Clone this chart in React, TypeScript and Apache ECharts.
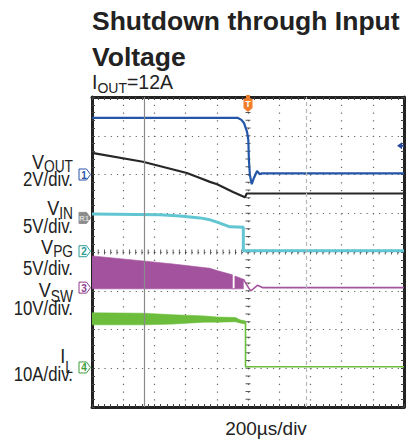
import React, { useEffect, useRef } from "react";
import * as echarts from "echarts";

// ---- data (x in time divisions 0..10, y in vertical divisions 0..8) ----
const VOUT_T = [0, 4.68, 4.79, 4.87, 4.97, 5.01, 5.03, 5.06, 5.12, 5.19, 5.29, 5.37, 5.45, 10];
const VOUT_V = [7.46, 7.46, 7.41, 7.33, 7.1, 6.89, 6.37, 5.99, 5.75, 5.91, 6.09, 6.01, 6.03, 6.03];

const BLK_T = [0, 1.63, 3.04, 3.46, 3.78, 4.01, 4.52, 4.9, 4.96, 10];
const BLK_V = [6.56, 6.33, 6.04, 5.91, 5.81, 5.75, 5.55, 5.41, 5.51, 5.51];

const VIN_T = [0, 2.18, 2.82, 3.46, 3.78, 4.01, 4.42, 4.85, 4.85, 10];
const VIN_V = [4.98, 4.96, 4.93, 4.88, 4.83, 4.77, 4.65, 4.64, 4.03, 4.03];

const SW_BASE = 3.05;
const SW_T = [0, 1.63, 2.6, 3.78, 4.01, 4.5, 4.5, 4.58, 4.58, 4.85];
const SW_TOP = [3.9, 3.77, 3.69, 3.58, 3.52, 3.41, 3.05, 3.05, 3.38, 3.3];
const SW_TAIL_T = [4.85, 5.03, 5.1, 5.3, 5.48, 10];
const SW_TAIL_V = [3.3, 3.06, 3.0, 3.14, 3.08, 3.08];

const IL_T = [0, 1.63, 2.6, 3.6, 4.01, 4.6, 4.74, 4.92];
const IL_LO = [2.12, 2.12, 2.14, 2.19, 2.19, 2.2, 2.17, 2.14];
const IL_HI = [2.43, 2.42, 2.38, 2.35, 2.32, 2.31, 2.25, 2.22];
const IL_TAIL_T = [4.92, 4.92, 10];
const IL_TAIL_V = [2.18, 1.04, 1.04];

const CURSOR_A = 1.67;
const CURSOR_B = 6.86;
const TRIG_X = 5;
const TRIG_LEVEL = 6.74;

const CHANNELS = [
  { label: "1", level: 6.0, color: "#2a55a5", filled: false },
  { label: "R1", level: 4.88, color: "#8c8c8c", filled: true },
  { label: "2", level: 4.02, color: "#2c9c96", filled: false },
  { label: "3", level: 3.08, color: "#8d3b8c", filled: false },
  { label: "4", level: 1.02, color: "#3d9e3a", filled: false },
];

const SUB_LABELS = [
  { main: "V", sub: "OUT", base: 168.3, d: 3 },
  { main: "V", sub: "IN", base: 214.5, d: 4 },
  { main: "V", sub: "PG", base: 253.3, d: 3 },
  { main: "V", sub: "SW", base: 296.7, d: 4.5 },
  { main: "I", sub: "L", base: 362.5, d: 10 },
];
const SCALE_LABELS = [
  { text: "2V/div.", base: 186.7 },
  { text: "5V/div.", base: 233.3 },
  { text: "5V/div.", base: 275 },
  { text: "10V/div.", base: 315 },
  { text: "10A/div.", base: 381.7 },
];

const BLUE = "#2456a8";
const BLACK = "#262626";
const CYAN = "#62c6d2";
const MAG = "#a3529e";
const GREEN = "#6cbd3c";

const FONT = "'Liberation Sans', Arial, Helvetica, sans-serif";
const LABEL_SX = 0.86;

const GRID = { left: 92, top: 97, width: 312, height: 310 };
const XDIV = 10;
const YDIV = 8;
const px = (x: number) => GRID.left + (x * GRID.width) / XDIV;
const py = (y: number) => GRID.top + ((YDIV - y) * GRID.height) / YDIV;

const K = 0.3465;

let measureCtx: CanvasRenderingContext2D | null = null;
function measure(text: string, size: number, weight = "normal") {
  if (!measureCtx) measureCtx = document.createElement("canvas").getContext("2d");
  if (!measureCtx) return text.length * size * 0.55;
  measureCtx.font = `${weight} ${size}px ${FONT}`;
  return measureCtx.measureText(text).width;
}

function textEl(text: string, x: number, base: number, size: number, align: string, sx = 1, weight = "normal") {
  return {
    type: "text",
    x,
    y: base - K * size,
    scaleX: sx,
    silent: true,
    style: { text, fontFamily: FONT, fontSize: size, fontWeight: weight, fill: "#222", align, verticalAlign: "middle" },
  };
}

function pairs(t: number[], v: number[]) {
  return t.map((x, i) => [x, v[i]]);
}

function bandSeries(t: number[], top: number[], bottom: number[], color: string) {
  const topPts = pairs(t, top);
  const botPts = pairs(t, bottom).reverse();
  return {
    type: "custom",
    data: topPts,
    encode: { x: 0, y: 1 },
    silent: true,
    clip: true,
    z: 2,
    renderItem: (params: any, api: any) => {
      if (params.dataIndex !== 0) return null;
      const pts = topPts.concat(botPts).map((p) => api.coord(p));
      return { type: "polygon", shape: { points: pts }, style: { fill: color, stroke: color, lineWidth: 0.6 } };
    },
  };
}

export default function App() {
  const ref = useRef<HTMLDivElement>(null);
  useEffect(() => {
    if (!ref.current) return;
    const chart = echarts.init(ref.current, undefined, { renderer: "svg" });

    const vTicks: number[][] = [];
    for (let k = 1; k < YDIV * 5; k++) vTicks.push([TRIG_X, k / 5]);
    const hTicks: number[][] = [];
    for (let k = 1; k < XDIV * 5; k++) hTicks.push([k / 5, YDIV / 2]);

    const frameAxis = {
      type: "value",
      min: 0,
      interval: 1,
      axisLine: { show: true, onZero: false, lineStyle: { color: "#222", width: 3 } },
      axisTick: { show: true, inside: true, length: 3, lineStyle: { color: "#444", width: 1 } },
      minorTick: { show: true, splitNumber: 5, length: 3, lineStyle: { color: "#444", width: 1 } },
      axisLabel: { show: false },
    };

    const graphic: any[] = [];
    graphic.push(textEl("Shutdown through Input", 92, 30.2, 26.5, "left", 1, "bold"));
    graphic.push(textEl("Voltage", 92, 66, 26.5, "left", 1, "bold"));
    // I_OUT=12A
    {
      const F = 19.5, f = 14, B = 88.3, d = 4.4;
      const wI = measure("I", F);
      const wO = measure("OUT", f);
      graphic.push(textEl("I", 92, B, F, "left"));
      graphic.push(textEl("OUT", 92 + wI, B + d, f, "left"));
      graphic.push(textEl("=12A", 92 + wI + wO, B, F, "left"));
    }
    graphic.push(textEl("200µs/div", 266, 435, 19, "center"));
    SUB_LABELS.forEach((l) => {
      const F = 21, f = 16;
      const wSub = measure(l.sub, f) * LABEL_SX;
      graphic.push(textEl(l.sub, 73, l.base + l.d, f, "right", LABEL_SX));
      graphic.push(textEl(l.main, 73 - wSub, l.base, F, "right", LABEL_SX));
    });
    SCALE_LABELS.forEach((l) => graphic.push(textEl(l.text, 73, l.base, 19.5, "right", LABEL_SX)));
    CHANNELS.forEach((c) => {
      const y = py(c.level);
      graphic.push({
        type: "polygon", silent: true, z: 10,
        shape: { points: [[79, y - 5.5], [86.5, y - 5.5], [90.5, y], [86.5, y + 5.5], [79, y + 5.5]] },
        style: { fill: c.filled ? c.color : "#fff", stroke: c.color, lineWidth: 1 },
      });
      graphic.push({
        type: "text", x: 84, y: y + 0.5, silent: true, z: 11,
        style: { text: c.label, fontFamily: FONT, fontSize: c.label.length > 1 ? 8 : 10, fontWeight: "bold", fill: c.filled ? "#d8d8d8" : c.color, align: "center", verticalAlign: "middle" },
      });
    });
    // trigger position marker
    const tx = px(TRIG_X);
    graphic.push({
      type: "polygon", silent: true, z: 10,
      shape: { points: [[tx - 2, 95], [tx + 2, 95], [tx + 2, 98], [tx + 4.5, 99], [tx + 4.5, 108], [tx, 112], [tx - 4.5, 108], [tx - 4.5, 99], [tx - 2, 98]] },
      style: { fill: "#f07d2a" },
    });
    graphic.push({
      type: "text", x: tx, y: 104, silent: true, z: 11,
      style: { text: "T", fontFamily: FONT, fontSize: 9, fontWeight: "bold", fill: "#fff", align: "center", verticalAlign: "middle" },
    });
    // trigger level marker
    const ty = py(TRIG_LEVEL);
    graphic.push({
      type: "polygon", silent: true, z: 10,
      shape: { points: [[397, ty], [402, ty - 3.5], [402, ty - 1], [404, ty - 1], [404, ty + 1], [402, ty + 1], [402, ty + 3.5]] },
      style: { fill: "#2a4a9a" },
    });

    const line = (data: number[][], color: string, width: number) => ({
      type: "line", data, symbol: "none", showSymbol: false, silent: true, clip: true,
      lineStyle: { color, width }, z: 3,
    });

    const option: any = {
      animation: false,
      backgroundColor: "#fff",
      grid: { ...GRID },
      xAxis: [
        {
          ...frameAxis, max: XDIV, position: "bottom",
          splitLine: { show: true, lineStyle: { color: "#666", width: 1.2, type: [1.2, 6.55] } },
        },
        { ...frameAxis, max: XDIV, position: "top", splitLine: { show: false } },
      ],
      yAxis: [
        {
          ...frameAxis, max: YDIV, position: "left",
          splitLine: { show: true, lineStyle: { color: "#666", width: 1.2, type: [1.2, 5.04] } },
        },
        { ...frameAxis, max: YDIV, position: "right", splitLine: { show: false } },
      ],
      series: [
        {
          type: "scatter", data: vTicks, symbol: "rect", symbolSize: [5, 1], silent: true, z: 1,
          itemStyle: { color: "#333" },
          markLine: {
            silent: true, symbol: ["none", "none"], label: { show: false },
            data: [
              { xAxis: CURSOR_A, lineStyle: { color: "#8a8a8a", width: 1.2, type: "solid" } },
              { xAxis: CURSOR_B, lineStyle: { color: "#b8b8b8", width: 1.2, type: [4, 3] } },
            ],
          },
        },
        { type: "scatter", data: hTicks, symbol: "rect", symbolSize: [1, 5], silent: true, z: 1, itemStyle: { color: "#333" } },
        bandSeries(SW_T, SW_TOP, SW_T.map(() => SW_BASE), MAG),
        line(pairs(SW_TAIL_T, SW_TAIL_V), MAG, 1.6),
        bandSeries(IL_T, IL_HI, IL_LO, GREEN),
        line(pairs(IL_TAIL_T, IL_TAIL_V), GREEN, 1.6),
        line(pairs(VIN_T, VIN_V), CYAN, 3),
        line(pairs(BLK_T, BLK_V), BLACK, 2.2),
        line(pairs(VOUT_T, VOUT_V), BLUE, 2.2),
      ],
      graphic,
    };
    chart.setOption(option);
    return () => chart.dispose();
  }, []);

  return <div ref={ref} style={{ position: "fixed", left: 0, top: 0, width: 419, height: 440 }} />;
}
